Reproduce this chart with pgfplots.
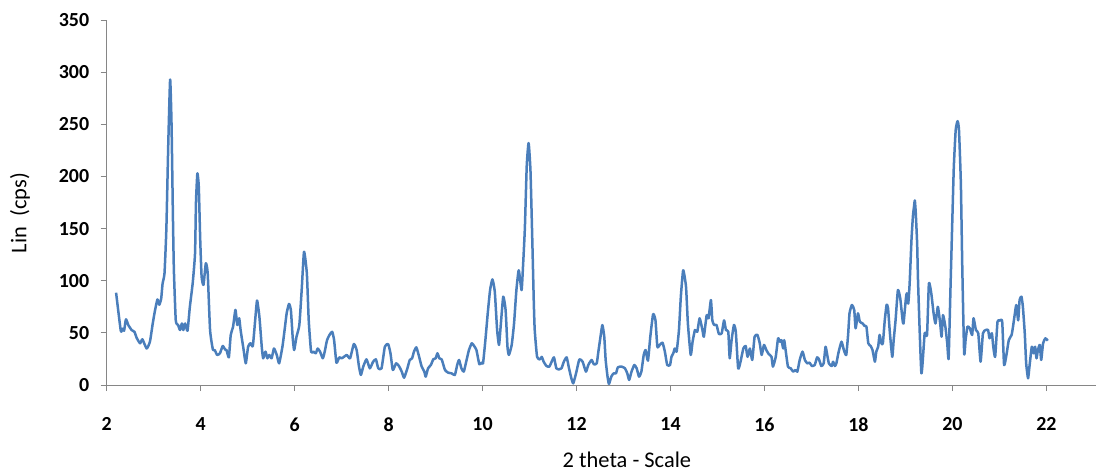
\documentclass[border=0pt]{standalone}
\usepackage{fontspec}
\setmainfont{Carlito}
\usepackage{pgfplots}
\pgfplotsset{compat=1.18}
\definecolor{xline}{HTML}{4A7EBB}
\definecolor{axgray}{HTML}{868686}
\begin{document}
\begin{tikzpicture}
\begin{axis}[
 at={(0,0)}, anchor=south west,
 scale only axis, width=989bp, height=365bp,
 xmin=2, xmax=23.05, ymin=0, ymax=350,
 axis x line=bottom, axis y line=left,
 axis line style={axgray, line width=1bp, -},
 xtick={2,4,...,22}, ytick={0,50,...,350},
 tick style={axgray, line width=1bp},
 tick align=outside, major tick length=6bp,
 /pgf/number format/assume math mode=true,
 ticklabel style={font=\fontsize{20}{24}\selectfont\bfseries, text=black},
 xticklabel style={anchor=north, yshift=-23bp},
 yticklabel style={anchor=east, xshift=-8bp},
 xlabel={2 theta - Scale},
 ylabel={Lin\ \ (cps)},
 label style={font=\fontsize{22.5}{26}\selectfont},
 xlabel style={at={(axis description cs:0.526,-0.2055)}, anchor=center},
 ylabel style={at={(axis description cs:-0.0877,0.471)}, anchor=center, rotate=0},
 clip=false,
]
\addplot[xline, line width=2.5bp, line join=round, smooth, tension=0.3] coordinates {
(2.20,88.5)(2.30,52)(2.34,54)(2.37,52)(2.41,63)(2.46,57.5)(2.53,52.7)(2.59,51)(2.64,45)(2.71,40)(2.76,43.8)(2.85,35)(2.92,41.5)(2.98,59)(3.03,72)(3.08,82)(3.12,77)(3.16,83)(3.19,97.5)(3.23,107)
(3.27,150)(3.31,230)(3.35,293)(3.38,250)(3.41,160)(3.43,110)(3.47,62)(3.52,57.5)(3.56,52.7)(3.60,59)(3.63,52.7)(3.67,59)(3.72,52)(3.77,75)(3.83,97.5)(3.88,126)
(3.90,175)(3.93,203)(3.96,190)(3.99,140)(4.02,104)(4.06,96)(4.11,116.7)(4.15,107)(4.20,52.7)(4.26,34)(4.30,33.5)(4.35,28.8)(4.41,30.4)(4.47,37.4)(4.52,34)(4.55,33.5)(4.60,26.5)
(4.64,48)(4.69,56)(4.74,72)(4.78,57.5)(4.82,64)(4.85,52.7)(4.91,35)(4.96,20.8)(5.01,36.7)(5.06,40)(5.11,37.4)(5.16,62)(5.20,81)(5.25,65.5)(5.30,36.7)(5.33,25.6)(5.38,32)(5.42,25.6)(5.46,28.8)(5.51,25.6)(5.56,35)(5.62,28.8)(5.67,20.8)
(5.74,36.7)(5.79,54)(5.83,68.7)(5.88,77.7)(5.92,72)(5.96,44.8)(5.99,33.5)(6.04,46.3)(6.10,57.5)(6.15,91)(6.20,127.8)(6.26,107)(6.30,62)(6.35,32)(6.40,32)(6.45,30.4)(6.49,35)(6.54,32)(6.60,25.6)(6.64,32)(6.69,43)(6.75,48.6)(6.80,51)(6.84,43)(6.89,21.4)(6.95,26.5)(7.00,25.6)(7.05,27)(7.11,28.8)(7.18,25.6)
(7.26,39.3)(7.32,33.5)(7.37,17.6)(7.41,9.6)(7.46,17.6)(7.53,24.6)(7.60,16)(7.67,22.3)(7.73,24.6)(7.78,16)(7.85,16)(7.92,36.7)(7.99,39.3)(8.04,30.4)(8.09,14.4)(8.16,20.8)(8.22,18.2)(8.28,12.8)(8.33,7)(8.40,16)(8.45,24)(8.50,25.6)(8.54,32)(8.59,36.1)(8.64,28.8)(8.70,18.2)(8.76,12.8)(8.79,8)(8.84,16)(8.90,19.2)(8.95,24.6)(9.00,25.6)(9.04,30.4)(9.08,25.6)(9.13,24.6)(9.20,14.4)(9.27,11.8)(9.34,11.2)(9.41,9.6)(9.46,19.2)(9.50,24)(9.55,16)(9.60,12.8)(9.66,24)(9.71,33.5)(9.77,40)(9.82,37.4)(9.87,33.5)(9.93,20)(9.98,21.4)(10.01,20.8)
(10.06,43)(10.11,68.7)(10.16,91)(10.21,101.3)(10.26,89.5)(10.31,52.7)(10.35,38.4)(10.39,59)(10.44,84.7)(10.49,72)(10.53,36.7)(10.56,28.8)(10.62,38.4)(10.67,59)(10.72,91)(10.77,110)(10.83,91)(10.86,113)(10.90,150)(10.94,210)(10.98,232)(11.02,205)(11.06,136)(11.09,80)
(11.11,52.7)(11.16,27)(11.22,24.6)(11.26,27)(11.30,22.3)(11.36,18.2)(11.42,17.6)(11.47,22.3)(11.52,26.5)(11.57,16)(11.63,15)(11.68,16)(11.73,22.3)(11.79,26.5)(11.84,16)(11.89,6.4)(11.93,1.6)(11.99,11.2)(12.06,24.6)(12.13,22.3)(12.20,12.8)(12.25,19.2)(12.32,24)(12.37,19.8)(12.43,20.8)(12.46,30.4)(12.51,46.3)(12.55,57.5)(12.59,46.3)(12.62,24)(12.66,8)(12.69,1)(12.74,8)(12.79,11.2)(12.84,11.2)(12.88,17)(12.96,17.6)(13.03,16)(13.08,11.2)(13.12,4.8)(13.17,12.8)(13.23,19.2)(13.28,16)(13.33,8)(13.38,12.8)(13.43,28.8)(13.47,33.5)(13.52,23.3)(13.57,46.3)(13.63,68)(13.68,62)(13.72,36.7)(13.77,38.4)(13.83,40.6)(13.88,32)(13.93,19.2)(13.99,19.2)(14.02,27)(14.06,30.4)(14.09,35)(14.13,32)(14.18,52.7)(14.22,84.7)(14.27,110)(14.33,94.3)(14.37,59)(14.43,28.8)(14.47,41.5)(14.52,52.7)(14.57,51)(14.62,64)(14.68,52.7)(14.71,46.3)(14.77,67)(14.81,64)(14.86,81.5)(14.89,62)(14.93,57.5)(14.98,57.5)(15.03,49)(15.09,49.6)(15.14,62)(15.18,52.7)(15.23,51)(15.26,25.6)(15.30,43)(15.35,57.5)(15.39,51)(15.44,16)(15.49,22.3)(15.55,35)(15.60,37.4)(15.64,27)(15.69,35)(15.74,24)(15.79,46.3)(15.85,48)(15.90,40)(15.94,28.8)(15.99,38.4)(16.04,33.5)(16.09,29.7)(16.15,27)(16.18,17.6)(16.24,27)(16.29,44.8)(16.33,41.5)(16.36,43)(16.40,35)(16.42,43)(16.45,33.5)(16.50,17.6)(16.56,16)(16.61,12.8)(16.66,14.4)(16.70,12.8)(16.75,24)(16.81,32)(16.86,24)(16.91,20.8)(16.96,21.4)(17.01,18.2)(17.07,19.2)(17.12,26.5)(17.16,24.6)(17.21,18.2)(17.26,20.8)
(17.30,36.7)(17.33,30.4)(17.37,20.8)(17.43,18.2)(17.46,22.3)(17.50,18.2)(17.53,20.8)(17.58,32)(17.64,41.5)(17.69,33.5)(17.74,28.8)(17.78,48)(17.81,68.7)(17.86,76.7)(17.91,72)(17.94,54.4)(17.99,68.7)(18.03,60.7)(18.09,59)(18.13,56.6)(18.17,56)(18.21,40)(18.26,37.4)(18.30,33.5)(18.35,22.3)(18.38,32)(18.42,36.7)(18.45,48)(18.49,40)(18.52,40)(18.56,62)(18.60,77)(18.63,73.6)(18.67,49.6)(18.72,27)(18.75,43)(18.79,62)(18.84,91)(18.89,83)(18.94,62)(18.96,59)(19.01,83)(19.03,88)(19.06,78)(19.09,97.5)(19.13,140)(19.16,162)(19.18,170)(19.20,177)(19.22,165)(19.25,135)(19.27,97.5)(19.34,11.2)(19.41,49.6)(19.46,48)(19.50,97.5)(19.55,88)(19.60,68.7)(19.64,59)(19.69,75)(19.74,59)(19.77,46.3)(19.80,67)(19.85,56)(19.89,40)(19.92,25.6)(19.96,94.3)(20.00,161)(20.03,209)(20.07,244.5)(20.11,253)(20.14,244.5)(20.18,193.4)(20.21,113.4)(20.25,30.4)(20.28,43)(20.32,56)(20.37,54.4)(20.42,48)(20.45,64)(20.50,52.7)(20.55,49.6)(20.60,22.3)(20.65,49.6)(20.71,52.7)(20.76,52.7)(20.79,44.8)(20.84,49.6)(20.87,36.7)(20.91,27)(20.96,60.7)(21.01,61.7)(21.06,60.7)(21.10,19.2)(21.15,28.8)(21.20,43)(21.26,48)(21.29,56)(21.33,68.7)(21.36,76.7)(21.40,62)(21.43,81.5)(21.47,84.7)(21.50,75)(21.54,49.6)(21.57,20.8)(21.61,6.4)(21.64,17.6)(21.69,36.7)(21.73,30.4)(21.76,36.7)(21.79,25.6)(21.82,33.5)(21.86,38.4)(21.89,24)(21.93,40)(21.98,44.8)(22.03,42.5)
};
\end{axis}
\pgfresetboundingbox
\path[use as bounding box] (-106.7bp,-88bp) rectangle (990.3bp,385bp);
\end{tikzpicture}
\end{document}
